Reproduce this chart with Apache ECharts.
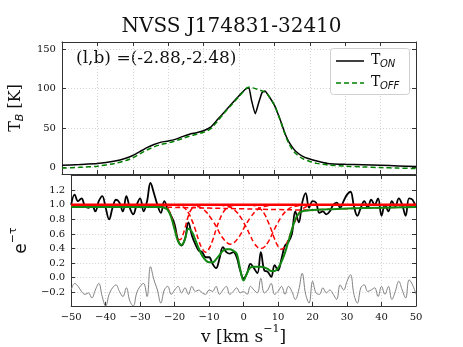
<!DOCTYPE html>
<html>
<head>
<meta charset="utf-8">
<script src="https://cdn.jsdelivr.net/npm/echarts@6/dist/echarts.min.js"></script>
<style>
  html, body { margin: 0; padding: 0; background: #fff; }
  #chart { width: 463px; height: 347px; }
</style>
</head>
<body>
<div id="chart"></div>
<script>
// velocity channels (km/s) for the absorption spectrum
const vel = [-50,-49,-48,-47,-46,-45,-44,-43,-42,-41,-40,-39,-38,-37,-36,-35,-34,-33,-32,-31,
  -30,-29,-28,-27,-26,-25,-24,-23,-22,-21,-20,-19,-18,-17,-16,-15,-14,-13,-12,-11,
  -10,-9,-8,-7,-6,-5,-4,-3,-2,-1,0,1,2,3,4,5,6,7,8,9,10,11,12,13,14,15,16,17,18,19,
  20,21,22,23,24,25,26,27,28,29,30,31,32,33,34,35,36,37,38,39,40,41,42,43,44,45,46,47,48,49,50];

// e^-tau observed
const absorp = [1.00,1.14,1.05,1.09,0.98,0.96,1.00,0.91,1.05,1.12,
  0.96,0.80,0.96,1.07,1.03,0.91,1.12,0.96,0.87,1.00,
  1.09,0.91,1.05,1.30,1.16,1.00,0.89,1.05,0.94,0.85,
  0.73,0.51,0.44,0.53,0.76,0.58,0.46,0.37,0.35,0.28,
  0.28,0.19,0.13,0.26,0.42,0.35,0.33,0.35,0.28,0.10,
  -0.01,0.06,0.19,0.13,0.06,0.35,0.10,0.08,0.01,0.17,
  0.10,0.26,0.44,0.49,0.60,0.91,0.76,1.03,1.16,0.96,
  1.05,1.03,0.89,0.91,0.87,0.91,1.00,1.03,0.96,1.05,
  1.14,1.18,0.98,0.85,0.96,1.05,0.96,1.07,1.00,1.09,
  0.85,1.00,0.91,1.05,0.98,1.09,1.00,0.85,1.09,1.07,
  0.96];

// residuals (offset)
const resid = [-0.17,-0.08,-0.12,-0.19,-0.23,-0.21,-0.28,-0.17,-0.08,-0.26,
  -0.39,-0.23,-0.14,-0.10,-0.19,-0.26,-0.14,-0.32,-0.39,-0.21,
  -0.12,-0.08,-0.26,0.15,-0.03,-0.17,-0.35,-0.17,-0.12,-0.23,
  -0.17,-0.12,-0.21,-0.14,-0.23,-0.12,-0.19,-0.17,-0.21,-0.23,
  -0.17,-0.19,-0.12,-0.23,-0.17,-0.12,-0.23,-0.19,-0.14,-0.21,
  -0.19,-0.23,-0.12,-0.17,-0.21,-0.01,-0.21,-0.17,-0.08,-0.23,
  -0.19,-0.12,-0.23,-0.12,-0.19,-0.30,-0.17,0.06,-0.23,-0.35,
  -0.05,-0.21,-0.23,-0.14,-0.21,-0.17,-0.23,-0.30,-0.10,-0.17,
  -0.05,0.04,-0.23,-0.35,-0.14,-0.10,-0.19,-0.17,-0.14,-0.26,
  -0.12,-0.23,-0.12,-0.30,-0.19,-0.05,-0.17,-0.28,-0.03,-0.10,
  -0.23];

// total fit
const fitV = [-50,-40,-30,-24,-23,-22,-21,-20,-19,-18,-17,-16,-15,-14,-13,-12,-11,-10,-9,-8,-7,-6,-5,-4,-3,-2,-1,0,1,2,3,4,5,6,7,8,9,10,11,12,13,14,15,16,17,18,20,25,30,40,50];
const fit  = [0.97,0.97,0.97,0.97,0.96,0.93,0.83,0.66,0.50,0.45,0.53,0.67,0.63,0.52,0.40,0.30,0.24,0.21,0.21,0.25,0.31,0.37,0.39,0.39,0.37,0.33,0.12,-0.04,0.06,0.14,0.15,0.15,0.15,0.14,0.12,0.09,0.09,0.13,0.22,0.34,0.50,0.66,0.80,0.88,0.91,0.92,0.93,0.94,0.95,0.96,0.97];

// gaussian components
const c1V = [-24,-23,-22,-21,-20,-19,-18.5,-18,-17,-16,-15,-14,-13];
const c1  = [1.0,0.99,0.95,0.85,0.68,0.54,0.52,0.54,0.68,0.85,0.95,0.99,1.0];
const c2V = [-20,-19,-18,-17,-16,-15,-14,-13,-12,-11,-10,-9,-8,-7,-6,-5,-4,-3,-2];
const c2  = [1.0,0.99,0.98,0.95,0.89,0.79,0.66,0.51,0.40,0.35,0.40,0.51,0.66,0.79,0.89,0.95,0.98,0.99,1.0];
const c3V = [-15.8,-14.8,-13.8,-12.8,-11.8,-10.8,-9.8,-8.8,-7.8,-6.8,-5.8,-4.8,-3.8,-2.8,-1.8,-0.8,0.2,1.2,2.2,3.2,4.2,5.2,6.2,7.2,8.2];
const c3  = [1.0,0.99,0.98,0.97,0.94,0.90,0.84,0.77,0.69,0.60,0.53,0.48,0.46,0.48,0.53,0.60,0.69,0.77,0.84,0.90,0.94,0.97,0.98,0.99,1.0];
const c4V = [-7,-6,-5,-4,-3,-2,-1,0,1,2,3,4,5,6,7,8,9,10,11,12,13,14,15,16,17];
const c4  = [1.0,0.99,0.98,0.97,0.94,0.90,0.84,0.76,0.67,0.57,0.48,0.42,0.40,0.42,0.48,0.57,0.67,0.76,0.84,0.90,0.94,0.97,0.98,0.99,1.0];
const c5V = [2,3,4,5,6,7,8,9,10,11,12,13,14,15,16,17,18,19,20];
const c5  = [1.0,0.99,0.97,0.94,0.88,0.78,0.66,0.53,0.43,0.39,0.43,0.53,0.66,0.78,0.88,0.94,0.97,0.99,1.0];
const broadV = [-50,-30,-20,-10,0,10,17,25,35,50];
const broad  = [0.98,0.975,0.965,0.955,0.945,0.935,0.93,0.94,0.955,0.97];
const totV = [-50,50];
const tot  = [1.0,1.0];

// emission spectra
const onV = [-50,-45,-40,-35,-32,-30,-28,-26,-24,-22,-20,-18,-16,-14,-12,-10,-8,-6,-4,-2,0,2,2.8,3.5,4.6,5.5,6.5,7.3,8.5,10,11,12,13,14,15,16,18,20,22,25,30,35,40,45,50];
const onT = [2.5,3.5,4.7,8,11.5,15,20,25,29,32,33.5,35.5,39,42,44,46.5,51,61,71,81,91,100,101,86,68,81,95,97,90,79,68,56,43,33,26,20.5,14,10.5,8,5,3.8,3.2,2.5,1.8,1];
const offV = [-50,-45,-40,-35,-32,-30,-28,-26,-24,-22,-20,-18,-16,-14,-12,-10,-8,-6,-4,-2,0,2,3,4,6,7.5,8.5,10,11,12,13,14,15,16,18,20,22,25,30,35,40,45,50];
const offT = [-1,0,1.5,5,8.5,12,17,22,26,29,31,33.5,36.5,39.5,42,44.5,49,59,70,80,90,100,102,101,98,95,90,79,68,55,42,31,23,17.5,11,7.5,5,3,1.5,0.5,-0.3,-1,-1.5];

const tbTicks = [0, 50, 100, 150];
const tauTicks = [-0.2, 0, 0.2, 0.4, 0.6, 0.8, 1.0, 1.2];

const zip = (xs, ys) => xs.map((x, i) => [x, ys[i]]);
const fmtMinus = v => String(v).replace('-', '\u2212');

const serif = 'DejaVu Serif';
const frame = '#333';
const gridLine = { show: true, lineStyle: { color: '#c8c8c8', type: [1, 2], width: 0.8 } };

function xAx(gridIndex, pos, labels) {
  return {
    type: 'value', gridIndex: gridIndex, position: pos, min: -50, max: 50, interval: 10,
    axisLine: { show: true, onZero: false, lineStyle: { color: frame, width: 1 } },
    axisTick: { show: true, inside: true, length: 4, lineStyle: { color: frame } },
    axisLabel: { show: labels, color: '#111', fontFamily: serif, fontSize: 10, margin: 6,
                 formatter: v => fmtMinus(v) },
    splitLine: pos === 'bottom' ? gridLine : { show: false }
  };
}
function yAx(gridIndex, pos, min, max, ticks, labels, fmt) {
  return {
    type: 'value', gridIndex: gridIndex, position: pos, min: min, max: max,
    axisLine: { show: true, onZero: false, lineStyle: { color: frame, width: 1 } },
    axisTick: { show: true, inside: true, length: 4, customValues: ticks, lineStyle: { color: frame } },
    axisLabel: { show: labels, customValues: ticks, color: '#111', fontFamily: serif, fontSize: 10, margin: 6,
                 formatter: fmt },
    splitLine: pos === 'left' ? gridLine : { show: false }
  };
}

const chart = echarts.init(document.getElementById('chart'));

const topL = yAx(0, 'left', -8.5, 159.3, tbTicks, true, v => fmtMinus(v));
topL.name = '{t|T}{s|B}{t| [K]}';
topL.nameLocation = 'middle';
topL.nameGap = 29;
topL.nameTextStyle = { rich: {
  t: { fontFamily: serif, fontSize: 16, color: '#111', lineHeight: 20, verticalAlign: 'middle' },
  s: { fontFamily: 'DejaVu Sans', fontStyle: 'italic', fontSize: 11, color: '#111', lineHeight: 20, verticalAlign: 'bottom' }
}};

const botL = yAx(1, 'left', -0.39, 1.41, tauTicks, true, v => fmtMinus(v.toFixed(1)));
botL.name = '{t|e}{p|\u2212\u03c4}';
botL.nameLocation = 'middle';
botL.nameGap = 31;
botL.nameTextStyle = { rich: {
  t: { fontFamily: 'DejaVu Sans', fontSize: 17, color: '#111', lineHeight: 22, verticalAlign: 'bottom' },
  p: { fontFamily: 'DejaVu Sans', fontSize: 11, color: '#111', lineHeight: 22, verticalAlign: 'top' }
}};

const botX = xAx(1, 'bottom', true);
botX.name = '{t|v [km s}{p|\u22121}{t|]}';
botX.nameLocation = 'middle';
botX.nameGap = 18;
botX.nameTextStyle = { rich: {
  t: { fontFamily: serif, fontSize: 17, color: '#111', lineHeight: 22, verticalAlign: 'bottom' },
  p: { fontFamily: serif, fontSize: 11, color: '#111', lineHeight: 22, verticalAlign: 'top' }
}};

const dashRed = (name, xs, ys) => ({
  name: name, type: 'line', xAxisIndex: 2, yAxisIndex: 2, data: zip(xs, ys),
  smooth: true, showSymbol: false, silent: true, z: 3,
  lineStyle: { color: '#ff0000', width: 1.5, type: [5, 3] }
});

chart.setOption({
  animation: false,
  backgroundColor: '#fff',
  title: {
    text: 'NVSS J174831-32410', left: 'center', top: 12,
    textStyle: { fontFamily: serif, fontSize: 20, fontWeight: 'normal', color: '#111' }
  },
  grid: [
    { left: 57, top: 42, width: 359, height: 132 },
    { left: 57, top: 175, width: 359, height: 133 }
  ],
  xAxis: [
    xAx(0, 'bottom', false),
    xAx(0, 'top', false),
    botX,
    xAx(1, 'top', false)
  ],
  yAxis: [
    topL,
    yAx(0, 'right', -8.5, 159.3, tbTicks, false),
    botL,
    yAx(1, 'right', -0.39, 1.41, tauTicks, false)
  ],
  graphic: [
    { type: 'text', left: 76, top: 50, style: { text: '(l,b) =(-2.88,-2.48)', font: '17px "DejaVu Serif"', fill: '#111' } },
    { type: 'rect', left: 330, top: 48, shape: { width: 79, height: 46, r: 3 },
      style: { fill: '#fff', stroke: '#d0d0d0', lineWidth: 1 }, z: 10 },
    { type: 'line', shape: { x1: 336, y1: 61, x2: 364, y2: 61 }, style: { stroke: '#000', lineWidth: 1.5 }, z: 11 },
    { type: 'line', shape: { x1: 336, y1: 83, x2: 364, y2: 83 }, style: { stroke: '#008000', lineWidth: 1.5, lineDash: [5, 3] }, z: 11 },
    { type: 'text', left: 371, top: 53, style: { text: 'T', font: '14px "DejaVu Serif"', fill: '#111' }, z: 11 },
    { type: 'text', left: 380, top: 59, style: { text: 'ON', font: 'italic 10px "DejaVu Sans"', fill: '#111' }, z: 11 },
    { type: 'text', left: 371, top: 75, style: { text: 'T', font: '14px "DejaVu Serif"', fill: '#111' }, z: 11 },
    { type: 'text', left: 380, top: 81, style: { text: 'OFF', font: 'italic 10px "DejaVu Sans"', fill: '#111' }, z: 11 }
  ],
  series: [
    { name: 'T_ON', type: 'line', xAxisIndex: 0, yAxisIndex: 0, data: zip(onV, onT),
      smooth: 0.15, showSymbol: false, z: 3, lineStyle: { color: '#000', width: 1.5 } },
    { name: 'T_OFF', type: 'line', xAxisIndex: 0, yAxisIndex: 0, data: zip(offV, offT),
      smooth: 0.3, showSymbol: false, z: 4, lineStyle: { color: '#008000', width: 1.5, type: [5, 3] } },

    { name: 'data', type: 'line', xAxisIndex: 2, yAxisIndex: 2, data: zip(vel, absorp),
      smooth: 0.4, showSymbol: false, z: 2, lineStyle: { color: '#000', width: 1.8 } },
    { name: 'residual', type: 'line', xAxisIndex: 2, yAxisIndex: 2, data: zip(vel, resid),
      smooth: 0.4, showSymbol: false, z: 2, lineStyle: { color: '#808080', width: 1 } },
    dashRed('c1', c1V, c1),
    dashRed('c2', c2V, c2),
    dashRed('c3', c3V, c3),
    dashRed('c4', c4V, c4),
    dashRed('c5', c5V, c5),
    dashRed('broad', broadV, broad),
    { name: 'sum', type: 'line', xAxisIndex: 2, yAxisIndex: 2, data: zip(totV, tot),
      showSymbol: false, z: 4, lineStyle: { color: '#ff0000', width: 2.5 } },
    { name: 'fit', type: 'line', xAxisIndex: 2, yAxisIndex: 2, data: zip(fitV, fit),
      smooth: 0.4, showSymbol: false, z: 5, lineStyle: { color: '#118811', width: 2 } }
  ]
});
</script>
</body>
</html>
